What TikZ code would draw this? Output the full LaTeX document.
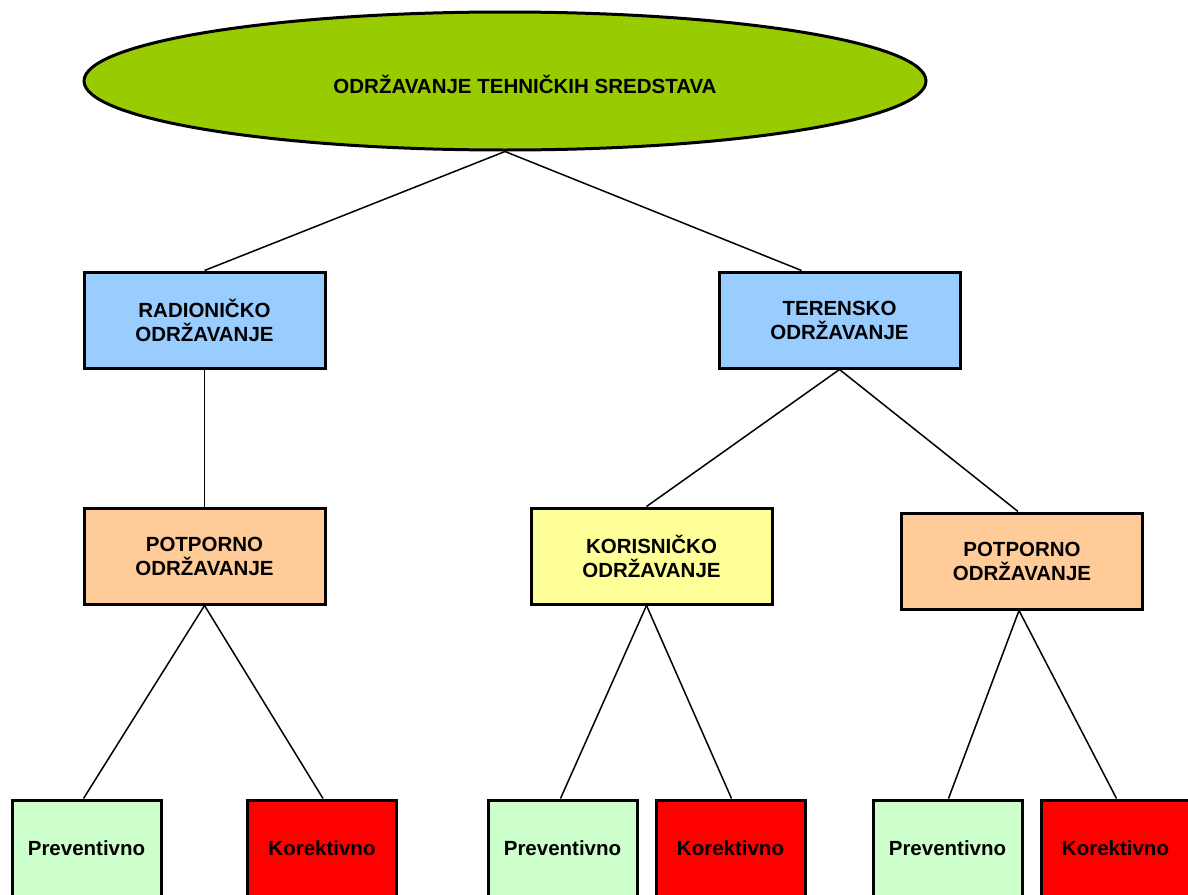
\documentclass[tikz,border=0pt]{standalone}
\usepackage{fontspec}
\setmainfont{Liberation Sans}
\usetikzlibrary{calc,shapes.geometric}
\definecolor{rootgreen}{HTML}{99CC00}
\definecolor{boxblue}{HTML}{99CCFF}
\definecolor{boxorange}{HTML}{FFCC99}
\definecolor{boxyellow}{HTML}{FFFF99}
\definecolor{boxlgreen}{HTML}{CCFFCC}
\definecolor{boxred}{HTML}{FF0000}
\tikzset{
  every node/.style={font=\fontsize{20.5}{24}\selectfont\bfseries, align=center},
  stage/.style={draw=black, line width=3pt, inner sep=0pt, minimum width=241pt, minimum height=96pt},
  leaf/.style={draw=black, line width=3pt, inner sep=0pt, minimum width=149pt, minimum height=96pt},
  link/.style={draw=black, line width=1.5pt}
}
\begin{document}
\begin{tikzpicture}[x=1pt,y=-1pt]
\useasboundingbox (0,0) rectangle (1188,894);
\clip (0,0) rectangle (1188,894);
% top
\node[ellipse, draw=black, line width=3pt, fill=rootgreen, inner sep=0pt,
      minimum width=842pt, minimum height=138pt] (root) at (505,81) {};
\node[inner sep=0pt] (rootlabel) at (525,84) {ODRŽAVANJE TEHNIČKIH SREDSTAVA};
% second level
\node[stage, fill=boxblue] (radio) at (204.5,320) {RADIONIČKO\\ODRŽAVANJE};
\node[stage, fill=boxblue] (teren) at (839.5,320) {TERENSKO\\ODRŽAVANJE};
% third level
\node[stage, fill=boxorange] (potL) at (204.5,556) {POTPORNO\\ODRŽAVANJE};
\node[stage, fill=boxyellow] (kor) at (651.5,556) {KORISNIČKO\\ODRŽAVANJE};
\node[stage, fill=boxorange] (potR) at (1022,561) {POTPORNO\\ODRŽAVANJE};
% leaves
\node[leaf, fill=boxlgreen] (prevA) at (86.5,848) {Preventivno};
\node[leaf, fill=boxred]    (korA)  at (322,848)  {Korektivno};
\node[leaf, fill=boxlgreen] (prevB) at (562.5,848) {Preventivno};
\node[leaf, fill=boxred]    (korB)  at (730.5,848) {Korektivno};
\node[leaf, fill=boxlgreen] (prevC) at (947.5,848) {Preventivno};
\node[leaf, fill=boxred]    (korC)  at (1115.5,848) {Korektivno};
% connectors
\draw[link] (root.south) -- (radio.north);
\draw[link] (root.south) -- ($(teren.north west)+(84,0)$);
\draw[link] (radio.south) -- (potL.north);
\draw[link] (teren.south) -- ($(kor.north west)+(117,0)$);
\draw[link] (teren.south) -- ($(potR.north west)+(118,0)$);
\draw[link] (potL.south) -- ($(prevA.north west)+(73,0)$);
\draw[link] (potL.south) -- ($(korA.north west)+(77,0)$);
\draw[link] ($(kor.south west)+(117,0)$) -- ($(prevB.north west)+(74,0)$);
\draw[link] ($(kor.south west)+(117,0)$) -- ($(korB.north west)+(77,0)$);
\draw[link] ($(potR.south west)+(119,0)$) -- ($(prevC.north west)+(77,0)$);
\draw[link] ($(potR.south west)+(119,0)$) -- ($(korC.north west)+(77,0)$);
\end{tikzpicture}
\end{document}
